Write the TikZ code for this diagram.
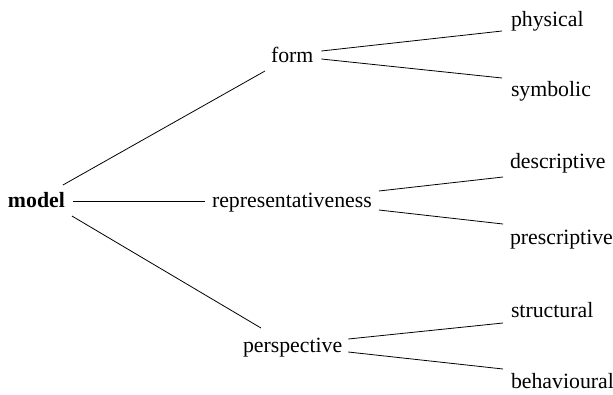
\documentclass[tikz,border=0pt]{standalone}
\usepackage{fontspec}
\setmainfont{Liberation Serif}
\usetikzlibrary{calc}
\begin{document}
\begin{tikzpicture}[x=1pt,y=-1pt,
  lbl/.style={anchor=base west,inner sep=0pt,outer sep=0pt,
    font=\fontsize{21.8}{24}\selectfont},
  link/.style={line width=0.8pt}]
\useasboundingbox (0,0) rectangle (613,394);
% taxonomy labels, placed by their baselines
\node[lbl,font=\fontsize{21.8}{24}\selectfont\bfseries] (model) at (8,207) {model};
\node[lbl] (form) at (271,62) {form};
\node[lbl] (rep) at (212,207) {representativeness};
\node[lbl] (persp) at (243,352) {perspective};
\node[lbl] (phys) at (511,26) {physical};
\node[lbl] (symb) at (511,96) {symbolic};
\node[lbl] (desc) at (510,168) {descriptive};
\node[lbl] (presc) at (510,244) {prescriptive};
\node[lbl] (struct) at (511,317) {structural};
\node[lbl] (behav) at (511,388) {behavioural};
% first level branches
\draw[link] ($(model.base east)+(-2,-22)$) -- ($(form.base west)+(-6,9)$);
\draw[link] ($(model.base east)+(8,-6)$) -- ($(rep.base west)+(-7,-6)$);
\draw[link] ($(model.base east)+(7,9)$) -- ($(persp.base west)+(18,-24)$);
% second level branches
\draw[link] ($(form.base east)+(8,-11)$) -- ($(phys.base west)+(-9,5)$);
\draw[link] ($(form.base east)+(8,-3)$) -- ($(symb.base west)+(-9,-18)$);
\draw[link] ($(rep.base east)+(7,-16)$) -- ($(desc.base west)+(-7,9)$);
\draw[link] ($(rep.base east)+(7,3)$) -- ($(presc.base west)+(-7,-20)$);
\draw[link] ($(persp.base east)+(6,-13)$) -- ($(struct.base west)+(-8,6)$);
\draw[link] ($(persp.base east)+(6,0)$) -- ($(behav.base west)+(-8,-19)$);
\end{tikzpicture}
\end{document}
